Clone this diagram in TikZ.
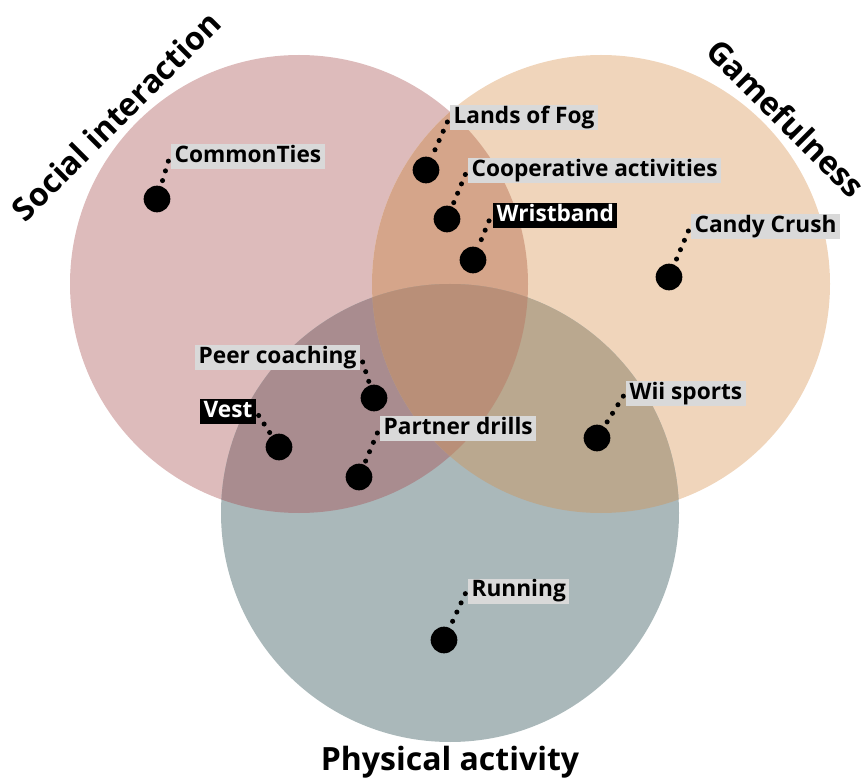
\documentclass[tikz,border=0pt]{standalone}
\usepackage{fontspec}
\setmainfont{Open Sans}
\definecolor{cS}{HTML}{DDBBBB}
\definecolor{cG}{HTML}{F0D5BB}
\definecolor{cP}{HTML}{AAB8BA}
\definecolor{cSG}{HTML}{D5A58A}
\definecolor{cSP}{HTML}{A98C8F}
\definecolor{cGP}{HTML}{BAA88F}
\definecolor{cSGP}{HTML}{B98F78}
\definecolor{labgray}{HTML}{D9D9D9}
\def\Scirc{(299,284) circle (171.75pt)}
\def\Gcirc{(601,284) circle (171.75pt)}
\def\Pcirc{(450,513) circle (171.75pt)}
\tikzset{
  bigdot/.style={circle, fill=black, minimum size=20pt, inner sep=0pt},
  lab/.style={fill=labgray, text=black, font=\bfseries\fontsize{17}{17}\selectfont,
    inner xsep=2.5pt, inner ysep=0pt, minimum height=18.75pt, text height=12.4pt, text depth=3.6pt},
  blab/.style={lab, fill=black, text=white},
  leader/.style={line width=3.8pt, dash pattern=on 0pt off 7.6pt, line cap=round, draw=black},
  title/.style={font=\bfseries\fontsize{24}{24}\selectfont, text=black, inner sep=0pt}
}
\begin{document}
\begin{tikzpicture}[x=0.75pt,y=-0.75pt]
\useasboundingbox (0,0) rectangle (864,780);
% circles
\fill[cS] \Scirc;
\fill[cG] \Gcirc;
\fill[cP] \Pcirc;
\begin{scope}\clip \Scirc; \fill[cSG] \Gcirc; \end{scope}
\begin{scope}\clip \Scirc; \fill[cSP] \Pcirc; \end{scope}
\begin{scope}\clip \Gcirc; \fill[cGP] \Pcirc; \end{scope}
\begin{scope}\clip \Scirc; \clip \Gcirc; \fill[cSGP] \Pcirc; \end{scope}
% dots
\node[bigdot] (d1) at (157,199) {};
\node[bigdot] (d2) at (426,170) {};
\node[bigdot] (d3) at (447,219) {};
\node[bigdot] (d4) at (473,260) {};
\node[bigdot] (d5) at (669,277) {};
\node[bigdot] (d6) at (374,398) {};
\node[bigdot] (d7) at (279,447) {};
\node[bigdot] (d8) at (359,477) {};
\node[bigdot] (d9) at (597,438) {};
\node[bigdot] (d10) at (444,640) {};
% labels
\node[lab, anchor=west] (l1) at (171,156.5) {CommonTies};
\node[lab, anchor=west] (l2) at (450,118) {Lands of Fog};
\node[lab, anchor=west] (l3) at (468,170.5) {Cooperative activities};
\node[blab, anchor=west] (l4) at (493,215.5) {Wristband};
\node[lab, anchor=west] (l5) at (691,227) {Candy Crush};
\node[lab, anchor=east] (l6) at (360,358) {Peer coaching};
\node[blab, anchor=east] (l7) at (256,411.5) {Vest};
\node[lab, anchor=west] (l8) at (380,429) {Partner drills};
\node[lab, anchor=west] (l9) at (626,393.5) {Wii sports};
\node[lab, anchor=west] (l10) at (468,591) {Running};
% leaders
\draw[leader] ([xshift=-2pt,yshift=-3.5pt]l1.west) -- (d1);
\draw[leader] ([xshift=-2pt,yshift=-3pt]l2.west) -- (d2);
\draw[leader] ([xshift=-2pt,yshift=-3pt]l3.west) -- (d3);
\draw[leader] ([xshift=-3pt,yshift=-4pt]l4.west) -- (d4);
\draw[leader] ([xshift=-2pt,yshift=-3pt]l5.west) -- (d5);
\draw[leader] ([xshift=2pt,yshift=-3pt]l6.east) -- (d6);
\draw[leader] ([xshift=2pt,yshift=-3pt]l7.east) -- (d7);
\draw[leader] ([xshift=-2pt,yshift=-3pt]l8.west) -- (d8);
\draw[leader] ([xshift=-2pt,yshift=-2pt]l9.west) -- (d9);
\draw[leader] ([xshift=-2pt,yshift=-2pt]l10.west) -- (d10);
% titles
\node[title, rotate=45] (tS) at (116,116) {Social interaction};
\node[title, rotate=-45] (tG) at (786,118) {Gamefulness};
\node[title] (tP) at (450,762) {Physical activity};
\end{tikzpicture}
\end{document}
